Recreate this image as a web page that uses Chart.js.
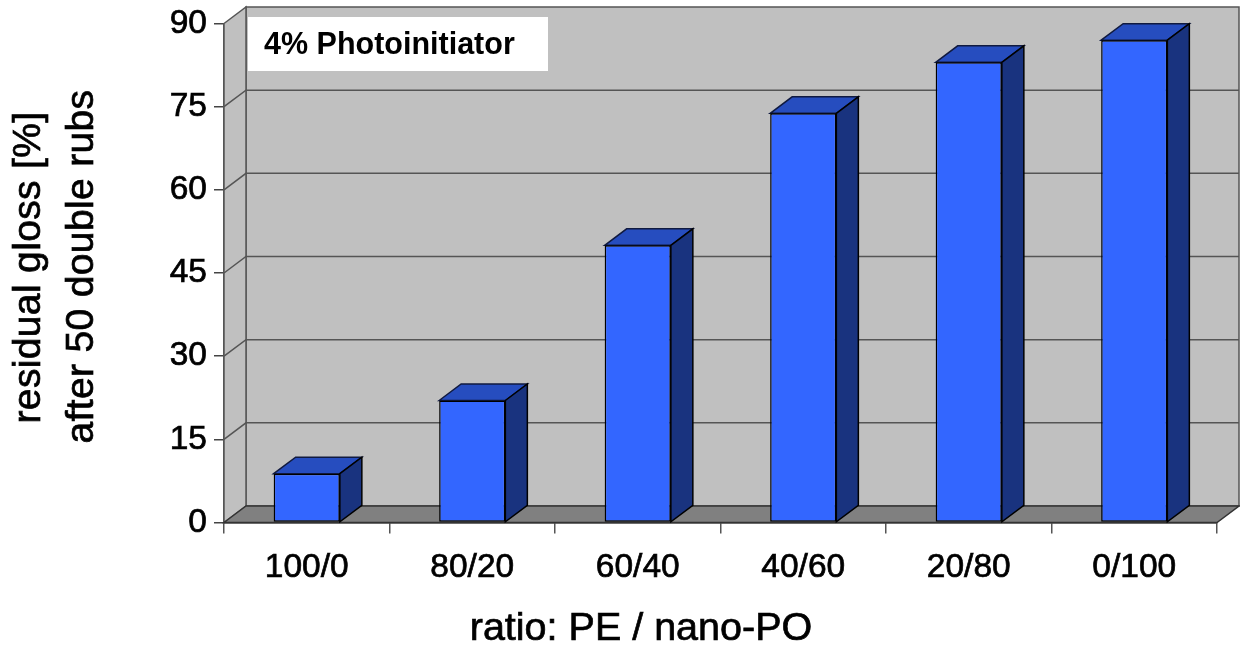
<!DOCTYPE html>
<html>
<head>
<meta charset="utf-8">
<title>residual gloss</title>
<script src="https://cdn.jsdelivr.net/npm/chart.js@4"></script>
<style>
  html, body { margin: 0; padding: 0; background: #fff; overflow: hidden; }
  canvas { display: block; }
</style>
</head>
<body>
<canvas id="myChart" width="1240" height="645"></canvas>
<script>
const ratios = ['100/0', '80/20', '60/40', '40/60', '20/80', '0/100'];
const residualGloss = [8.8, 22, 50, 73.8, 83, 87];
const yTicks = [0, 15, 30, 45, 60, 75, 90];
const yTitleLines = ['residual gloss [%]', 'after 50 double rubs'];
const xTitle = 'ratio: PE / nano-PO';
const noteText = '4% Photoinitiator';

const FONT = '"Liberation Sans", Arial, sans-serif';
const DEPTH_X = 22;
const DEPTH_Y = 16.5;

function poly(ctx, pts, fill, stroke, lw) {
  ctx.beginPath();
  pts.forEach((p, i) => i ? ctx.lineTo(p[0], p[1]) : ctx.moveTo(p[0], p[1]));
  ctx.closePath();
  if (fill) { ctx.fillStyle = fill; ctx.fill(); }
  if (stroke) { ctx.strokeStyle = stroke; ctx.lineWidth = lw; ctx.stroke(); }
}

// text with a thin outline, the reference glyphs are a bit heavier than regular
function heavyText(ctx, text, x, y) {
  ctx.fillText(text, x, y);
  ctx.strokeText(text, x, y);
}

// back wall, side wall, floor and the depth faces of the bars
const boxPlugin = {
  id: 'box3d',
  beforeDatasetsDraw(chart) {
    const { ctx, chartArea: a, scales: { y } } = chart;
    const dx = DEPTH_X, dy = DEPTH_Y;
    const y0 = y.getPixelForValue(0);
    ctx.save();

    poly(ctx, [[a.left + dx, a.top - dy], [a.right + dx, a.top - dy], [a.right + dx, y0 - dy], [a.left + dx, y0 - dy]], '#c0c0c0', '#555', 1.5);
    poly(ctx, [[a.left, a.top], [a.left + dx, a.top - dy], [a.left + dx, y0 - dy], [a.left, y0]], '#c0c0c0', '#555', 1.5);
    poly(ctx, [[a.left, y0], [a.left + dx, y0 - dy], [a.right + dx, y0 - dy], [a.right, y0]], '#808080', '#333', 1.5);

    ctx.strokeStyle = '#555';
    ctx.lineWidth = 1.5;
    yTicks.filter(t => t > 0 && t < 90).forEach(t => {
      const py = y.getPixelForValue(t);
      ctx.beginPath();
      ctx.moveTo(a.left, py);
      ctx.lineTo(a.left + dx, py - dy);
      ctx.lineTo(a.right + dx, py - dy);
      ctx.stroke();
    });

    // text box
    ctx.fillStyle = '#fff';
    ctx.fillRect(248, 17, 300, 54);
    ctx.fillStyle = '#000';
    ctx.font = 'bold 30.5px ' + FONT;
    ctx.textAlign = 'left';
    ctx.textBaseline = 'middle';
    ctx.fillText(noteText, 264, 46);

    chart.getDatasetMeta(0).data.forEach(bar => {
      const l = bar.x - bar.width / 2, r = bar.x + bar.width / 2;
      poly(ctx, [[l, bar.y], [l + dx, bar.y - dy], [r + dx, bar.y - dy], [r, bar.y]], '#264dbf', '#101a40', 1.5);
      poly(ctx, [[r, bar.y], [r + dx, bar.y - dy], [r + dx, bar.base - dy], [r, bar.base]], '#19337f', '#000', 1.5);
    });
    ctx.restore();
  },
  // axis titles sit off centre in the reference, so they are placed here
  afterDraw(chart) {
    const { ctx } = chart;
    ctx.save();
    ctx.fillStyle = '#000';
    ctx.strokeStyle = '#000';
    ctx.lineWidth = 0.7;
    ctx.textAlign = 'center';
    ctx.textBaseline = 'alphabetic';
    ctx.font = '39.5px ' + FONT;
    heavyText(ctx, xTitle, 641, 640);

    ctx.font = '39px ' + FONT;
    ctx.letterSpacing = '0.35px';
    [[39.5, 267.5], [93, 266.5]].forEach((pos, i) => {
      ctx.save();
      ctx.translate(pos[0], pos[1]);
      ctx.rotate(-Math.PI / 2);
      heavyText(ctx, yTitleLines[i], 0, 0);
      ctx.restore();
    });
    ctx.restore();
  }
};

new Chart(document.getElementById('myChart').getContext('2d'), {
  type: 'bar',
  data: {
    labels: ratios,
    datasets: [{
      data: residualGloss,
      backgroundColor: '#3366ff',
      borderColor: '#000',
      borderWidth: 1.5,
      borderSkipped: false,
      barPercentage: 0.4,
      categoryPercentage: 1
    }]
  },
  plugins: [boxPlugin],
  options: {
    responsive: false,
    animation: false,
    layout: { padding: { left: 0, right: 23, top: 23.5, bottom: 0 } },
    plugins: { legend: { display: false }, tooltip: { enabled: false } },
    scales: {
      x: {
        afterFit: s => { s.height = 122.5; s.paddingLeft = 0; s.paddingRight = 0; },
        border: { color: '#000', width: 1.5 },
        grid: { drawOnChartArea: false, color: '#555', tickLength: 11, lineWidth: 1.5 },
        ticks: { color: '#000', font: { family: FONT, size: 33.5 }, padding: 14, maxRotation: 0, textStrokeColor: '#000', textStrokeWidth: 0.7 }
      },
      y: {
        min: 0,
        max: 90,
        afterFit: s => { s.width = 224; s.paddingTop = 0; s.paddingBottom = 0; },
        afterBuildTicks: s => { s.ticks = yTicks.map(v => ({ value: v })); },
        border: { color: '#555', width: 1.5 },
        grid: { drawOnChartArea: false, color: '#444', tickLength: 10, lineWidth: 1.5 },
        ticks: { color: '#000', font: { family: FONT, size: 33.5 }, padding: 7, textStrokeColor: '#000', textStrokeWidth: 0.7 }
      }
    }
  }
});
</script>
</body>
</html>
